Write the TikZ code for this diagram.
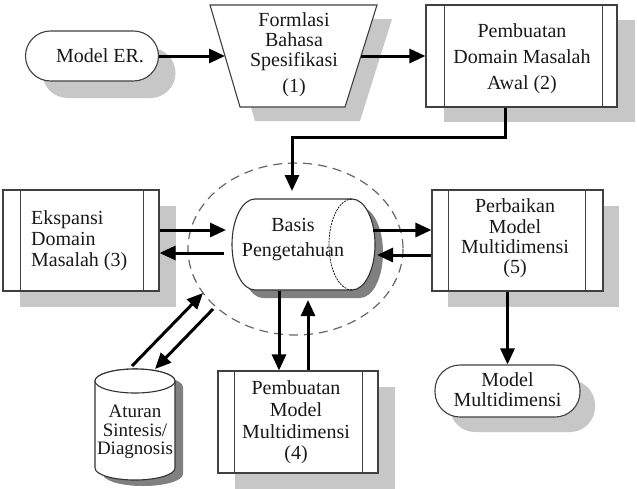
\documentclass[tikz,border=0pt]{standalone}
\usepackage{fontspec}
\setmainfont{Liberation Serif}
\usetikzlibrary{arrows.meta,shadows,calc}
\begin{document}
\begin{tikzpicture}[x=1pt,y=-1pt,
  txt/.style={font=\fontsize{20}{21}\selectfont, align=center, text=black!90, inner sep=0pt},
  box/.style={draw=black!75, line width=1.1pt, fill=white, rectangle, minimum height=102pt, inner sep=0pt},
  term/.style={draw=black!75, line width=1.1pt, fill=white, rectangle, rounded corners=25pt, inner sep=0pt},
  sh/.style 2 args={drop shadow={shadow xshift=#1pt, shadow yshift=-#2pt, fill=black!22, opacity=1}},
  bar/.style={draw=black!75, line width=1.1pt},
  arr/.style={line width=3pt, -{Triangle[length=16pt,width=14pt]}, black},
  ring/.style={draw=black!60, line width=1.2pt, dash pattern=on 9pt off 6pt},
  cyl/.style={draw=black!80, line width=1.1pt, fill=white},
  cylshd/.style={fill=black!50}
]
\useasboundingbox (0,0) rectangle (637,488);
\fill[white] (0,0) rectangle (637,488);

% dashed ring around the knowledge base
\draw[ring] (295.5,249) ellipse [x radius=107.5, y radius=86];

% Model ER
\node[term, sh={17}{17}, minimum width=133pt, minimum height=50pt] (mer) at (92,56) {};
\node[txt] (mert) at (100,56) {Model ER.};

% Trapezoid (1)
\fill[black!22, shift={(15,14)}] (210,5) -- (377,5) -- (345,107) -- (240,107) -- cycle;
\draw[cyl, draw=black!75] (210,5) -- (377,5) -- (345,107) -- (240,107) -- cycle;
\node[txt, font=\fontsize{20}{20}\selectfont] (f1) at (294,55) {Formlasi\\Bahasa\\Spesifikasi\\[6pt](1)};
\coordinate (f1l) at (225,56);
\coordinate (f1r) at (361,56);

% Box (2)
\node[box, sh={18}{15}, minimum width=191pt] (b2) at (521.5,56) {};
\draw[bar] ([xshift=19pt]b2.north west) -- ([xshift=19pt]b2.south west);
\draw[bar] ([xshift=-15pt]b2.north east) -- ([xshift=-15pt]b2.south east);
\node[txt, font=\fontsize{20}{26}\selectfont] (b2t) at (522,58.5) {Pembuatan\\Domain Masalah\\Awal (2)};

% Box (3)
\node[box, sh={17}{16}, minimum width=156pt, minimum height=101pt] (b3) at (81,240.5) {};
\draw[bar] ([xshift=18pt]b3.north west) -- ([xshift=18pt]b3.south west);
\draw[bar] ([xshift=-16pt]b3.north east) -- ([xshift=-16pt]b3.south east);
\node[txt, align=left, anchor=west] (b3t) at (31,241) {Ekspansi\\Domain\\Masalah (3)};

% Box (5)
\node[box, sh={16}{16}, minimum width=171pt, minimum height=101pt] (b5) at (517.5,240.5) {};
\draw[bar] ([xshift=17pt]b5.north west) -- ([xshift=17pt]b5.south west);
\draw[bar] ([xshift=-18pt]b5.north east) -- ([xshift=-18pt]b5.south east);
\node[txt, font=\fontsize{20}{20.3}\selectfont] (b5t) at (515,238.5) {Perbaikan\\Model\\Multidimensi\\(5)};

% Box (4)
\node[box, sh={17}{16}, minimum width=160pt] (b4) at (298,422) {};
\draw[bar] ([xshift=17pt]b4.north west) -- ([xshift=17pt]b4.south west);
\draw[bar] ([xshift=-16pt]b4.north east) -- ([xshift=-16pt]b4.south east);
\node[txt, font=\fontsize{20}{21.7}\selectfont] (b4t) at (296,422.5) {Pembuatan\\Model\\Multidimensi\\(4)};

% Model Multidimensi terminal
\node[term, sh={15}{15}, minimum width=145pt, minimum height=52pt] (mm) at (507.5,391) {};
\node[txt, font=\fontsize{20}{20}\selectfont] (mmt) at (507.5,390) {Model\\Multidimensi};

% Knowledge base (horizontal cylinder)
\fill[cylshd, shift={(8,8)}] (255,199) -- (352,199) arc[start angle=-90,end angle=90,x radius=23,y radius=45.5] -- (255,290) arc[start angle=90,end angle=270,x radius=23,y radius=45.5] -- cycle;
\draw[cyl] (255,199) -- (352,199) arc[start angle=-90,end angle=90,x radius=23,y radius=45.5] -- (255,290) arc[start angle=90,end angle=270,x radius=23,y radius=45.5] -- cycle;
\draw[line width=0.7pt, dash pattern=on 2pt off 1pt] (352,290) arc[start angle=90,end angle=270,x radius=23,y radius=45.5];
\node[inner sep=0pt, minimum width=143pt, minimum height=91pt] (kb) at (303.5,244.5) {};
\node[txt, font=\fontsize{20}{25}\selectfont] (kbt) at (293,240) {Basis\\Pengetahuan};

% Aturan (vertical cylinder)
\fill[cylshd, shift={(8,6)}] (95,381) -- (95,468) arc[start angle=180,end angle=0,x radius=40,y radius=12] -- (175,381) arc[start angle=0,end angle=-180,x radius=40,y radius=12] -- cycle;
\draw[cyl] (95,381) -- (95,468) arc[start angle=180,end angle=0,x radius=40,y radius=12] -- (175,381) arc[start angle=0,end angle=-180,x radius=40,y radius=12] -- cycle;
\draw[cyl] (135,381) ellipse [x radius=40, y radius=12];
\node[txt, font=\fontsize{19}{18.5}\selectfont] (at) at (135,432) {Aturan\\Sintesis/\\Diagnosis};

% connector end points
\coordinate (c1) at (292,137);
\coordinate (kbtop) at (292,191);
\coordinate (kbL1) at (226,230);
\coordinate (kbL2) at (224,253);
\coordinate (kbR1) at (373,230);
\coordinate (kbR2) at (377,255);
\coordinate (kbB1) at (279,291);
\coordinate (kbB2) at (308,300);
\coordinate (at1) at (132,366);
\coordinate (at2) at (155,369);
\coordinate (r1) at (203,293);
\coordinate (r2) at (213,309);

% connectors
\draw[arr] (mer.east) -- (f1l);
\draw[arr] (f1r) -- (b2.west);
\draw[arr] ([xshift=-16pt]b2.south) |- (c1) -- (kbtop);
\draw[arr] (b3.east |- kbL1) -- (kbL1);
\draw[arr] (kbL2) -- (b3.east |- kbL2);
\draw[arr] (kbR1) -- (b5.west |- kbR1);
\draw[arr] (b5.west |- kbR2) -- (kbR2);
\draw[arr] (mm.north |- b5.south) -- (mm.north);
\draw[arr] (kbB1) -- (kbB1 |- b4.north);
\draw[arr] (kbB2 |- b4.north) -- (kbB2);
\draw[arr] (at1) -- (r1);
\draw[arr] (r2) -- (at2);
\end{tikzpicture}
\end{document}
